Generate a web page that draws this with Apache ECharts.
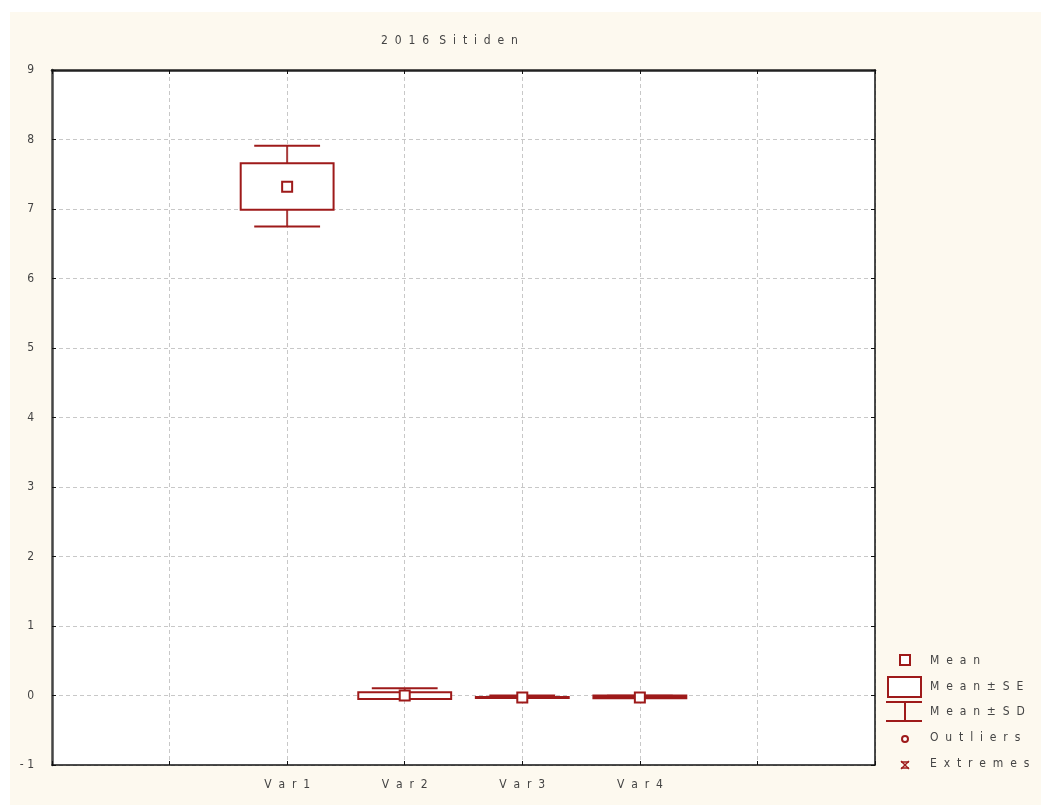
<!DOCTYPE html>
<html><head><meta charset="utf-8">
<script src="https://cdn.jsdelivr.net/npm/echarts@6/dist/echarts.min.js"></script>
<style>html,body{margin:0;padding:0;background:#fff}#c{width:1041px;height:805px}</style>
</head><body><div id="c"></div>
<script>
const title = '2016 Sitiden';
const categories = ['Var1', 'Var2', 'Var3', 'Var4'];
const means  = [7.32, 0.00, -0.03, -0.03];
const seLow  = [6.99, -0.05, -0.037, -0.04];
const seHigh = [7.66, 0.045, -0.023, 0.00];
const sdLow  = [6.75, -0.05, -0.037, -0.035];
const sdHigh = [7.91, 0.105, 0.00, -0.005];
const yTicks = [-1, 0, 1, 2, 3, 4, 5, 6, 7, 8, 9];
const legendLabels = ['Mean', 'Mean±SE', 'Mean±SD', 'Outliers', 'Extremes'];

const RED = '#9e1a1a';
const FONT = "'Liberation Sans Narrow','DejaVu Sans Condensed','Liberation Sans',sans-serif";
const TXT = '#444';
const sp = (s, g) => s.split(' ').map(w => w.split('').join(g || '  ')).join('   ');

const data = categories.map((c, i) => [i, means[i], seLow[i], seHigh[i], sdLow[i], sdHigh[i]]);

const chart = echarts.init(document.getElementById('c'), null, {renderer: 'canvas'});

function renderItem(params, api) {
  const x = api.value(0), m = api.value(1);
  const band = api.size([1, 0])[0];
  const c = api.coord([x, m]);
  const seB = api.coord([x, api.value(2)])[1], seT = api.coord([x, api.value(3)])[1];
  const sdB = api.coord([x, api.value(4)])[1], sdT = api.coord([x, api.value(5)])[1];
  const bw = band * 0.79, cw = band * 0.56, ms = 10;
  const ls = {stroke: RED, lineWidth: 2, fill: null};
  const h = seB - seT;
  return {
    type: 'group',
    children: [
      {type: 'line', shape: {x1: c[0], y1: sdT, x2: c[0], y2: sdB}, style: {stroke: '#a83a3a', lineWidth: 2}},
      {type: 'line', shape: {x1: c[0] - cw / 2, y1: sdT, x2: c[0] + cw / 2, y2: sdT}, style: ls},
      {type: 'line', shape: {x1: c[0] - cw / 2, y1: sdB, x2: c[0] + cw / 2, y2: sdB}, style: ls},
      {type: 'rect', shape: {x: c[0] - bw / 2, y: seT, width: bw, height: Math.max(h, 0.5)},
        style: {stroke: RED, lineWidth: 2, fill: h < 3.2 ? RED : '#fff'}},
      {type: 'rect', shape: {x: c[0] - ms / 2, y: c[1] - ms / 2, width: ms, height: ms},
        style: {stroke: RED, lineWidth: 2, fill: '#fff'}}
    ]
  };
}

const lx = 905, tx = 930;
const legendRows = [660, 686, 711, 737, 763];
const gLegend = [
  {type: 'rect', shape: {x: lx - 5, y: legendRows[0] - 5, width: 10, height: 10}, style: {stroke: RED, lineWidth: 2, fill: '#fff'}},
  {type: 'rect', shape: {x: 888, y: 677, width: 33, height: 20}, style: {stroke: RED, lineWidth: 2, fill: '#fff'}},
  {type: 'line', shape: {x1: 886, y1: 702, x2: 922, y2: 702}, style: {stroke: RED, lineWidth: 2}},
  {type: 'line', shape: {x1: lx, y1: 702, x2: lx, y2: 721}, style: {stroke: RED, lineWidth: 2}},
  {type: 'line', shape: {x1: 886, y1: 721, x2: 922, y2: 721}, style: {stroke: RED, lineWidth: 2}},
  {type: 'circle', shape: {cx: lx, cy: legendRows[3] + 2, r: 3}, style: {stroke: RED, lineWidth: 2, fill: '#fff'}},
  {type: 'line', shape: {x1: lx - 4, y1: 762, x2: lx + 4, y2: 762}, style: {stroke: RED, lineWidth: 1.5}},
  {type: 'line', shape: {x1: lx - 4, y1: 768, x2: lx + 4, y2: 768}, style: {stroke: RED, lineWidth: 1.5}},
  {type: 'line', shape: {x1: lx - 4, y1: 761, x2: lx + 4, y2: 769}, style: {stroke: RED, lineWidth: 1.5}},
  {type: 'line', shape: {x1: lx + 4, y1: 761, x2: lx - 4, y2: 769}, style: {stroke: RED, lineWidth: 1.5}}
];
legendLabels.forEach((t, i) => gLegend.push({
  type: 'text', x: tx, y: legendRows[i] + 1,
  style: {text: sp(t), font: '12px ' + FONT, fill: TXT, textVerticalAlign: 'middle'}
}));

const option = {
  animation: false,
  backgroundColor: '#fff',
  graphic: [
    {type: 'rect', z: -10, shape: {x: 10, y: 12, width: 1031, height: 793}, style: {fill: '#fdf9ef'}},
    {type: 'text', left: 381, top: 35, style: {text: sp(title), font: '12px ' + FONT, fill: TXT}}
  ].concat(gLegend),
  grid: {left: 52, top: 70, right: 166, bottom: 40, show: true, backgroundColor: '#fff', borderWidth: 0},
  xAxis: [{
    type: 'value', min: -2, max: 5, interval: 1,
    axisLine: {show: true, onZero: false, lineStyle: {color: '#111', width: 1.5}},
    axisTick: {show: true, inside: true, length: 4, lineStyle: {color: '#111'}},
    axisLabel: {formatter: v => (v >= 0 && v < categories.length) ? sp(categories[v]) : '',
      fontFamily: FONT, fontSize: 12, color: TXT, margin: 14, showMinLabel: true, showMaxLabel: true},
    splitLine: {show: true, lineStyle: {color: '#c8c8c8', type: [4, 3], width: 1}}
  }, {
    type: 'value', position: 'top', min: -2, max: 5, interval: 1,
    axisLine: {show: true, onZero: false, lineStyle: {color: '#222', width: 2.5}},
    axisTick: {show: true, inside: true, length: 4, lineStyle: {color: '#111'}},
    axisLabel: {show: false}, splitLine: {show: false}
  }],
  yAxis: [{
    type: 'value', min: yTicks[0], max: yTicks[yTicks.length - 1], interval: 1,
    axisLine: {show: true, onZero: false, lineStyle: {color: '#444', width: 2.5}},
    axisTick: {show: true, inside: true, length: 4, lineStyle: {color: '#111'}},
    axisLabel: {fontFamily: FONT, fontSize: 12, color: TXT, margin: 18,
      formatter: v => v < 0 ? '- ' + Math.abs(v) : String(v)},
    splitLine: {show: true, lineStyle: {color: '#c8c8c8', type: [4, 3], width: 1}}
  }, {
    type: 'value', position: 'right', min: yTicks[0], max: yTicks[yTicks.length - 1], interval: 1,
    axisLine: {show: true, onZero: false, lineStyle: {color: '#111', width: 1.5}},
    axisTick: {show: true, inside: true, length: 4, lineStyle: {color: '#111'}},
    axisLabel: {show: false}, splitLine: {show: false}
  }],
  series: [{
    type: 'custom', renderItem: renderItem, data: data,
    encode: {x: 0, y: 1}, clip: false, z: 5
  }]
};
chart.setOption(option);
</script>
</body></html>
